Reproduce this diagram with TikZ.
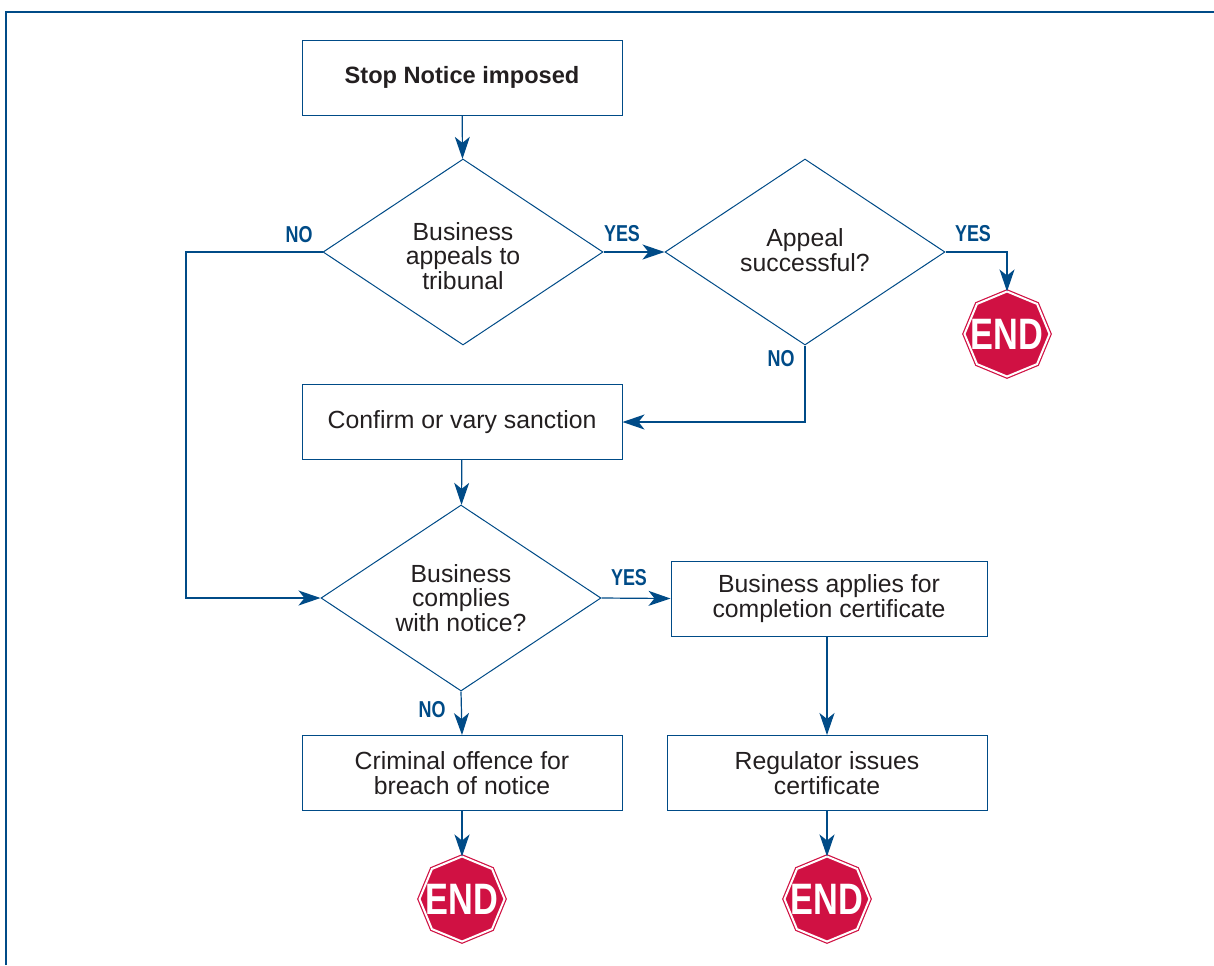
\documentclass[tikz,border=0pt]{standalone}
\usepackage{fontspec}
\setmainfont{Liberation Sans}
\usetikzlibrary{positioning}
\usetikzlibrary{arrows.meta}
\usetikzlibrary{shapes.geometric}
\definecolor{themeBlue}{RGB}{0,75,135}
\definecolor{themeRed}{RGB}{208,17,67}
\definecolor{themeText}{RGB}{35,31,32}
\newcommand\Narrow[1]{\scalebox{0.78}[1]{#1}}
\tikzset{
  caption/.style={align=center, inner sep=0pt, text=themeText, font=\fontsize{12.4}{12.4}\selectfont},
  action/.style={caption, draw=themeBlue, line width=0.5pt, minimum width=160pt, minimum height=37.5pt},
  decision/.style={action, diamond, aspect=1.5, minimum width=140pt, minimum height=93pt},
  answer/.style={text=themeBlue, inner sep=0pt, font=\fontsize{11.5}{12}\selectfont\bfseries},
  endstop/.style={regular polygon, regular polygon sides=8, shape border rotate=22.5, minimum size=42.5pt, inner sep=0pt, outer sep=0pt, fill=themeRed, draw=themeRed, line width=0.6pt, double=white, double distance=1pt,
    label={[text=white, inner sep=0pt, font=\fontsize{22}{22}\selectfont\bfseries]center:\Narrow{END}}},
  flow/.style={draw=themeBlue, line width=0.6pt, -{Stealth[length=11pt,width=7.5pt,inset=3pt]}},
}
\begin{document}
\begin{tikzpicture}[x=0.5pt,y=-0.5pt]
\useasboundingbox (0,0) rectangle (1214,965);
\draw [themeBlue, line width=0.8pt] (6,965) -- (6,12) -- (1214,12);

\node [action, font=\fontsize{11.8}{12.6}\selectfont\bfseries] (stop) at (462,77.5) {Stop Notice imposed};
\node [decision, label={[caption, yshift=-2pt]center:{Business\\appeals to\\tribunal}}] (appeal) at (463,252) {};
\node [decision, label={[caption, yshift=1pt]center:{Appeal\\successful?}}] (success) at (805,252) {};
\node [action] (confirm) at (462,422) {Confirm or vary sanction};
\node [decision] (comply) at (461,598) {Business\\complies\\with notice?};
\node [action, minimum width=158pt] (apply) at (829,598.5) {Business applies for\\completion certificate};
\node [action] (offence) at (462,773) {Criminal offence for\\breach of notice};
\node [action] (issue) at (827,773) {Regulator issues\\certificate};

\node [endstop] (endA) at (1007,334) {};
\node [endstop] (endB) at (462,899) {};
\node [endstop] (endC) at (827,899) {};

\node [answer] (noA) at (299,235) {\Narrow{NO}};
\node [answer] (yesA) at (622,234) {\Narrow{YES}};
\node [answer] (yesB) at (973,234) {\Narrow{YES}};
\node [answer] (noB) at (781,359) {\Narrow{NO}};
\node [answer] (yesC) at (629,578) {\Narrow{YES}};
\node [answer] (noC) at (432,710) {\Narrow{NO}};

\coordinate (leftTop) at (186,252);
\coordinate (leftBottom) at (186,598);

\draw [flow] (stop) -- (appeal);
\draw [flow] (appeal) -- (success);
\draw [flow] (appeal.west) -- (leftTop) -- (leftBottom) -- (comply.west);
\draw [flow] (success.east) -| (endA.north);
\draw [flow] (success.south) |- (confirm.east);
\draw [flow] (confirm) -- (comply);
\draw [flow] (comply.east) -- (apply.west);
\draw [flow] (comply.south) -- (offence.north);
\draw [flow] (apply.south -| issue.north) -- (issue.north);
\draw [flow] (offence) -- (endB);
\draw [flow] (issue) -- (endC);
\end{tikzpicture}
\end{document}
